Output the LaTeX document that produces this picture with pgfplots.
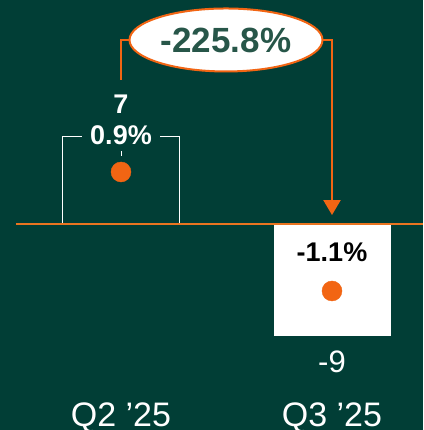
\documentclass[border=0pt]{standalone}
\usepackage{pgfplots}
\pgfplotsset{compat=1.18}
\usepackage{fontspec}
\setmainfont{Liberation Sans}
\usetikzlibrary{arrows.meta,shapes.geometric}
\definecolor{bg}{HTML}{013E36}
\definecolor{org}{HTML}{F26513}
\definecolor{lineorg}{HTML}{EA7420}
\definecolor{txtgreen}{HTML}{275649}
\begin{document}
\begin{tikzpicture}
\useasboundingbox (0,0) rectangle (423pt,430pt);
\fill[bg] (0,0) rectangle (423pt,430pt);
\clip (0,0) rectangle (423pt,430pt);
\begin{axis}[at={(0pt,0pt)}, anchor=south west, scale only axis,
  width=423pt, height=430pt,
  xmin=-0.5735, xmax=1.4313, ymin=-16.546, ymax=17.992,
  hide axis, clip=false]
\addplot[ybar, bar width=117pt, bar shift=0pt, draw=white, line width=0.8pt, fill=none] coordinates {(0,7)};
\addplot[ybar, bar width=117pt, bar shift=0pt, draw=none, fill=white] coordinates {(1,-9)};
\addplot[lineorg, line width=1.2pt] coordinates {(-0.4976,0) (1.4313,0)};
\addplot[only marks, mark=*, mark size=10pt, color=org, mark options={draw=org, fill=org}] coordinates {(0,4.18) (1,-5.38)};
% labels Q2
\node[text=white, font=\fontsize{27}{30}\selectfont\bfseries] at (axis cs:0,9.64) {7};
\node[text=white, fill=bg, inner xsep=8pt, inner ysep=1pt, font=\fontsize{27}{30}\selectfont\bfseries] at (axis cs:0,7.15) {0.9\%};
\draw[white, line width=1pt] (axis cs:0,5.86) -- (axis cs:0,5.46);
% labels Q3
\node[text=black, font=\fontsize{27}{30}\selectfont\bfseries] at (axis cs:1,-2.25) {-1.1\%};
\node[text=white, font=\fontsize{31}{34}\selectfont] at (axis cs:1,-11.08) {-9};
% categories
\node[text=white, anchor=base, font=\fontsize{34}{38}\selectfont] at (axis cs:0,-16.3) {Q2 ’25};
\node[text=white, anchor=base, font=\fontsize{34}{38}\selectfont] at (axis cs:1,-16.3) {Q3 ’25};
% arrow
\draw[org, line width=2.3pt, -{Triangle[length=15pt,width=17pt]}] (axis cs:0,11.57) |- (axis cs:1,14.78) -- (axis cs:1,0.72);
\node[ellipse, draw=org, line width=2pt, fill=white, minimum width=193pt, minimum height=63pt, inner sep=0pt, text=txtgreen, font=\fontsize{35}{38}\selectfont\bfseries] at (axis cs:0.4976,14.78) {-225.8\%};
\end{axis}
\end{tikzpicture}
\end{document}
